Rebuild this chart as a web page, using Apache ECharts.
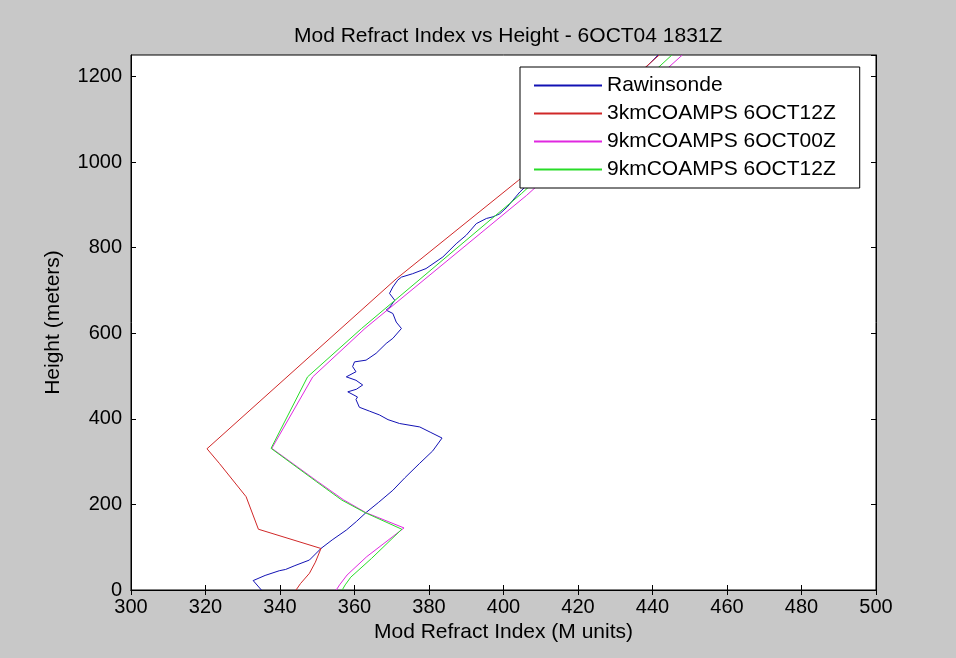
<!DOCTYPE html>
<html>
<head>
<meta charset="utf-8">
<script src="https://cdn.jsdelivr.net/npm/echarts@6/dist/echarts.min.js"></script>
<style>html,body{margin:0;padding:0;background:#c8c8c8;}#c{width:956px;height:658px;}</style>
</head>
<body>
<div id="c"></div>
<script>
var titleText = 'Mod Refract Index vs Height - 6OCT04 1831Z';
var xName = 'Mod Refract Index (M units)';
var yName = 'Height (meters)';
var seriesNames = ['Rawinsonde', '3kmCOAMPS 6OCT12Z', '9kmCOAMPS 6OCT00Z', '9kmCOAMPS 6OCT12Z'];
var seriesColors = ['#1212b4', '#d02828', '#e028e0', '#28dc28'];

// Rawinsonde
var rawX = [335, 332.8, 336, 339.8, 341.5, 344, 347.9, 351, 354, 357.8, 360.5, 363.1, 366.5, 370.3, 373.5, 377.5, 381, 383.5, 380.5, 377.5, 372.1, 369, 366.7, 364, 361.3, 360.4, 360.8, 358.2, 360.5, 362.2, 360.4, 357.8, 360.4, 359.5, 360, 363.1, 365.8, 368.5, 370.3, 372.6, 371.2, 370.3, 368.5, 369.5, 370.8, 369.4, 370.3, 371.6, 372.6, 375.6, 379.2, 383.7, 387.3, 390, 392.7, 395.4, 397.2, 399, 401, 404.4, 420, 441.5];
var rawY = [0, 22, 34, 45, 48, 57, 70, 97, 117, 140, 160, 181, 205, 233, 262, 296, 325, 355, 368, 381, 389, 398, 409, 418, 427, 445, 451, 463, 469, 479, 490, 498, 510, 522, 533, 537, 553, 576, 588, 611, 626, 646, 654, 661, 677, 693, 708, 724, 731, 739, 751, 778, 809, 829, 856, 868, 872, 879, 895, 930, 1060, 1250];

// 3km COAMPS 6OCT12Z
var c3X = [344.3, 345.5, 347.9, 349.5, 351, 334.2, 330.9, 323.7, 320.4, 371.2, 404, 441.8];
var c3Y = [0, 15, 39, 65, 97, 142, 218, 296, 330, 727, 957, 1250];

// 9km COAMPS 6OCT00Z
var c900X = [355.1, 356, 358, 363.3, 373.3, 363, 357, 350, 337.8, 348.8, 362.8, 406.2, 448];
var c900Y = [0, 12, 35, 78, 145, 181, 211, 254, 331, 498, 611, 922, 1250];

// 9km COAMPS 6OCT12Z
var c912X = [356.7, 357.5, 359, 364.6, 372.7, 362.8, 356.6, 349.8, 337.6, 347.4, 361.9, 404.8, 445.2];
var c912Y = [0, 12, 30, 74, 142, 181, 210, 253, 331, 498, 611, 926, 1250];

function pairs(xs, ys) { return xs.map(function (v, i) { return [v, ys[i]]; }); }
var allX = [rawX, c3X, c900X, c912X];
var allY = [rawY, c3Y, c900Y, c912Y];

var fontFam = 'Liberation Sans, Arial, sans-serif';
var fs = 21;
var tfs = 20;

var chart = echarts.init(document.getElementById('c'), null, {renderer: 'canvas'});
var series = seriesNames.map(function (n, i) {
  return {
    name: n, type: 'line', data: pairs(allX[i], allY[i]),
    symbol: 'none', showSymbol: false, smooth: false, animation: false,
    lineStyle: {color: seriesColors[i], width: 1},
    itemStyle: {color: seriesColors[i]},
    xAxisIndex: 0, yAxisIndex: 0
  };
});

chart.setOption({
  backgroundColor: '#c8c8c8',
  animation: false,
  title: {
    text: titleText, left: 289, top: 21,
    textStyle: {fontFamily: fontFam, fontSize: fs, fontWeight: 'normal', color: '#000'}
  },
  legend: {
    data: seriesNames, orient: 'vertical', left: 520, top: 67,
    backgroundColor: '#fff', borderColor: '#000', borderWidth: 1,
    padding: [8, 24, 8, 13], itemGap: 7, itemWidth: 68, itemHeight: 14,
    itemStyle: {opacity: 0},
    textStyle: {fontFamily: fontFam, fontSize: fs, color: '#000', lineHeight: 21}
  },
  grid: {left: 131, right: 80, top: 55, bottom: 68, show: true, backgroundColor: '#fff', borderColor: '#000', borderWidth: 1},
  xAxis: [{
    type: 'value', min: 300, max: 500, interval: 20, position: 'bottom',
    name: xName, nameLocation: 'middle', nameGap: 32,
    nameTextStyle: {fontFamily: fontFam, fontSize: fs, color: '#000'},
    axisLine: {show: true, lineStyle: {color: '#000'}},
    axisTick: {show: true, inside: true, length: 5, lineStyle: {color: '#000'}},
    axisLabel: {fontFamily: fontFam, fontSize: tfs, color: '#000', margin: 7},
    splitLine: {show: false}
  }, {
    type: 'value', min: 300, max: 500, interval: 20, position: 'top',
    axisLine: {show: true, lineStyle: {color: '#000'}},
    axisTick: {show: true, inside: true, length: 5, lineStyle: {color: '#000'}},
    axisLabel: {show: false}, splitLine: {show: false}
  }],
  yAxis: [{
    type: 'value', min: 0, max: 1250, interval: 200, position: 'left',
    name: yName, nameLocation: 'middle', nameGap: 67, nameRotate: 90,
    nameTextStyle: {fontFamily: fontFam, fontSize: fs, color: '#000'},
    axisLine: {show: true, lineStyle: {color: '#000'}},
    axisTick: {show: true, inside: true, length: 5, lineStyle: {color: '#000'}},
    axisLabel: {fontFamily: fontFam, fontSize: tfs, color: '#000', margin: 9, showMaxLabel: false,
      formatter: function (v) { return String(v); }},
    splitLine: {show: false}
  }, {
    type: 'value', min: 0, max: 1250, interval: 200, position: 'right',
    axisLine: {show: true, lineStyle: {color: '#000'}},
    axisTick: {show: true, inside: true, length: 5, lineStyle: {color: '#000'}},
    axisLabel: {show: false}, splitLine: {show: false}
  }],
  series: series
});
</script>
</body>
</html>
